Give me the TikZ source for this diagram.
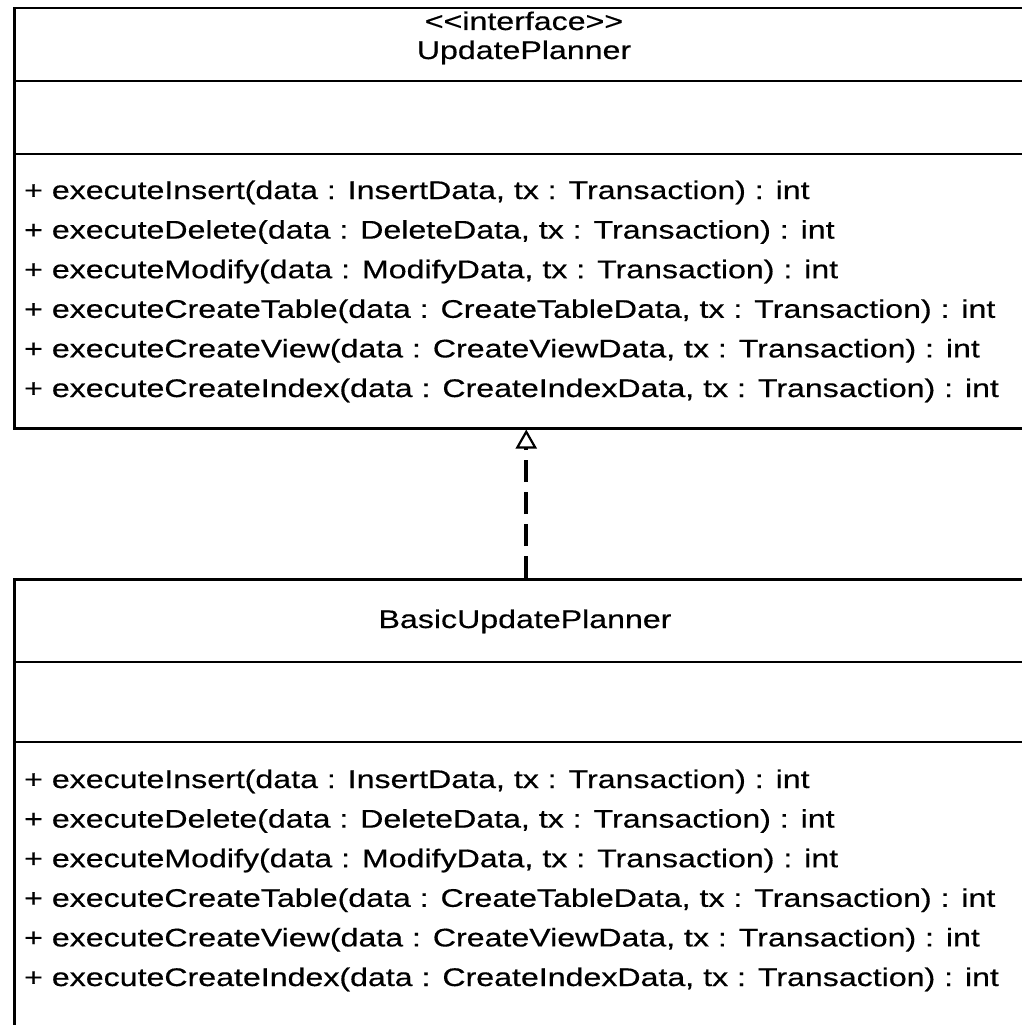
\documentclass[tikz,border=0pt]{standalone}
\usepackage{fontspec}
\newfontfamily\umlfont{Liberation Sans}[FakeStretch=1.26, FakeBold=0.4]
\usetikzlibrary{arrows.meta}

\tikzset{
  classbox/.style={draw=black, line width=2.5pt, fill=white, inner sep=0pt,
    anchor=north west, minimum width=1024pt},
  divider/.style={draw=black, line width=2.5pt},
  umltext/.style={inner sep=0pt, anchor=base,
    font=\umlfont\fontsize{25.5}{25.5}\selectfont},
  member/.style={umltext, anchor=base west},
  realizes/.style={line width=4pt, dash pattern=on 22pt off 10pt,
    -{Triangle[open, length=19pt, width=21pt, line width=2.2pt]}}
}

\begin{document}
\begin{tikzpicture}[x=1pt, y=-1pt]
  \useasboundingbox (0,0) rectangle (1022,1025);
  \clip (0,0) rectangle (1022,1025);

  % interface box
  \node[classbox, minimum height=420pt] (iface) at (13,7) {};
  \draw[divider] ([yshift=-74pt]iface.north west) -- ([yshift=-74pt]iface.north east);
  \draw[divider] ([yshift=-147pt]iface.north west) -- ([yshift=-147pt]iface.north east);
  \node[umltext] (ifstereo) at (524,30) {<{}<interface>{}>};
  \node[umltext] (ifname) at (524,59) {UpdatePlanner};

  % implementing class box
  \node[classbox, minimum height=500pt] (impl) at (13,578) {};
  \draw[divider] ([yshift=-84pt]impl.north west) -- ([yshift=-84pt]impl.north east);
  \draw[divider] ([yshift=-164pt]impl.north west) -- ([yshift=-164pt]impl.north east);
  \node[umltext] (implname) at (525,628) {BasicUpdatePlanner};

  % operations of both classifiers
  \foreach \op [count=\i from 0] in {%
      {+ executeInsert(data : InsertData, tx : Transaction) : int},
      {+ executeDelete(data : DeleteData, tx : Transaction) : int},
      {+ executeModify(data : ModifyData, tx : Transaction) : int},
      {+ executeCreateTable(data : CreateTableData, tx : Transaction) : int},
      {+ executeCreateView(data : CreateViewData, tx : Transaction) : int},
      {+ executeCreateIndex(data : CreateIndexData, tx : Transaction) : int}} {
    \node[member] (ifop\i) at (24,199+39.6*\i) {\op};
    \node[member] (implop\i) at (24,788+39.6*\i) {\op};
  }

  % realization
  \draw[realizes] (impl.north) -- (iface.south);
\end{tikzpicture}
\end{document}
